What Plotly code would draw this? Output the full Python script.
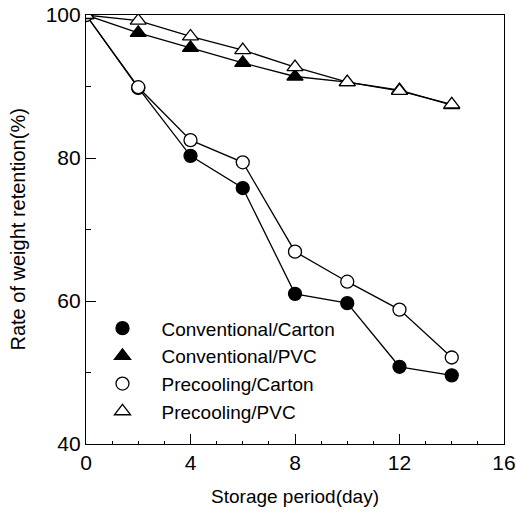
import plotly.graph_objects as go

# Storage days
days = [0, 2, 4, 6, 8, 10, 12, 14]

# Weight retention (%) per treatment
conv_carton = [100, 89.8, 80.3, 75.8, 61.0, 59.7, 50.8, 49.6]
conv_pvc = [100, 97.5, 95.4, 93.3, 91.4, 90.6, 89.5, 87.4]
pre_carton = [100, 89.9, 82.5, 79.4, 66.9, 62.7, 58.8, 52.1]
pre_pvc = [100, 99.2, 97.0, 95.1, 92.7, 90.6, 89.4, 87.5]

series = [
    ("Conventional/Carton", conv_carton, "circle", "black", 13),
    ("Conventional/PVC", conv_pvc, "triangle-up", "black", 14),
    ("Precooling/Carton", pre_carton, "circle", "white", 13),
    ("Precooling/PVC", pre_pvc, "triangle-up", "white", 14),
]

FONT = "Liberation Sans, Arial, sans-serif"

fig = go.Figure()

# connecting lines (kept out of the legend)
for name, vals, sym, fill, size in series:
    fig.add_trace(go.Scatter(
        x=days, y=vals, mode="lines",
        line=dict(color="black", width=1.3),
        showlegend=False, hoverinfo="skip",
    ))

# markers (legend shows symbols only)
for name, vals, sym, fill, size in series:
    fig.add_trace(go.Scatter(
        x=days, y=vals, mode="markers", name=name,
        marker=dict(symbol=sym, size=size, color=fill,
                    line=dict(color="black", width=1.3)),
    ))

fig.update_layout(
    width=516, height=520,
    margin=dict(l=86, r=12, t=15, b=76),
    paper_bgcolor="white", plot_bgcolor="white",
    font=dict(family=FONT, size=19, color="black"),
    legend=dict(
        x=-0.006, y=0.314, xanchor="left", yanchor="top",
        bgcolor="rgba(0,0,0,0)", font=dict(size=19, family=FONT),
        itemwidth=68, tracegroupgap=0,
    ),
    showlegend=True,
)

# vertical axis title placed just left of the tick labels
fig.add_annotation(
    text="Rate of weight retention(%)", textangle=-90,
    xref="paper", yref="paper", x=0, y=0.5,
    xanchor="center", yanchor="middle", xshift=-69, showarrow=False,
    font=dict(size=20, family=FONT, color="black"),
)

fig.update_xaxes(
    range=[0, 16], tickvals=[0, 4, 8, 12, 16],
    ticks="inside", ticklen=10, tickwidth=1, tickcolor="black",
    minor=dict(dtick=1, ticks="inside", ticklen=3, tickcolor="black", tickwidth=1),
    showline=True, linecolor="black", linewidth=1.2, mirror=True,
    showgrid=False, zeroline=False, automargin=False,
    tickfont=dict(size=21, family=FONT),
    title=dict(text="Storage period(day)", font=dict(size=19, family=FONT), standoff=16),
)
fig.update_yaxes(
    range=[40, 100], tickvals=[40, 60, 80, 100],
    ticks="inside", ticklen=10, tickwidth=1, tickcolor="black",
    minor=dict(dtick=10, ticks="inside", ticklen=5, tickcolor="black", tickwidth=1),
    showline=True, linecolor="black", linewidth=1.2, mirror=True,
    showgrid=False, zeroline=False, automargin=False,
    tickfont=dict(size=21, family=FONT),
)

fig.write_html("out.html")
